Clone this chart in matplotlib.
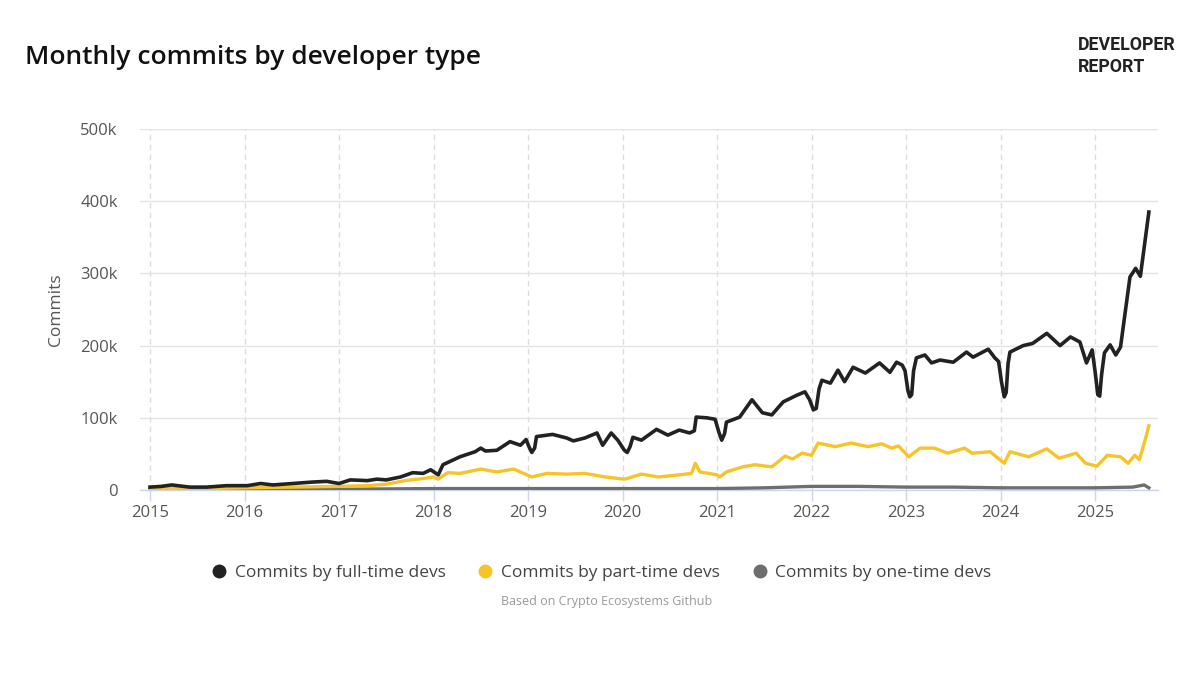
import matplotlib
matplotlib.use("Agg")
import matplotlib.pyplot as plt
from matplotlib.lines import Line2D
from matplotlib.ticker import FuncFormatter

# Datas em ano decimal, commits em milhares
ft_dates = [2015.0, 2015.12, 2015.23, 2015.42, 2015.6, 2015.81, 2016.03, 2016.17, 2016.3, 2016.51,
            2016.72, 2016.87, 2017.0, 2017.12, 2017.3, 2017.4, 2017.5, 2017.65, 2017.78, 2017.89,
            2017.97, 2018.05, 2018.1, 2018.28, 2018.44, 2018.5, 2018.55, 2018.67, 2018.81, 2018.92,
            2018.98, 2019.01, 2019.04, 2019.07, 2019.09, 2019.26, 2019.41, 2019.48, 2019.6, 2019.73,
            2019.79, 2019.88, 2019.95, 2020.02, 2020.05, 2020.08, 2020.11, 2020.2, 2020.36, 2020.48,
            2020.6, 2020.71, 2020.76, 2020.78, 2020.89, 2020.98, 2021.02, 2021.05, 2021.08, 2021.1,
            2021.24, 2021.37, 2021.48, 2021.58, 2021.7, 2021.84, 2021.93, 2021.98, 2022.02, 2022.05,
            2022.08, 2022.11, 2022.2, 2022.28, 2022.35, 2022.44, 2022.57, 2022.72, 2022.83, 2022.9,
            2022.96, 2022.99, 2023.02, 2023.04, 2023.06, 2023.08, 2023.11, 2023.2, 2023.27, 2023.36,
            2023.5, 2023.64, 2023.71, 2023.87, 2023.94, 2023.98, 2024.01, 2024.04, 2024.06, 2024.08,
            2024.1, 2024.24, 2024.34, 2024.49, 2024.63, 2024.74, 2024.84, 2024.91, 2024.97, 2025.0,
            2025.03, 2025.05, 2025.07, 2025.1, 2025.16, 2025.22, 2025.27, 2025.37, 2025.43, 2025.48,
            2025.57]
ft_commits_k = [4, 5, 7, 4, 4, 6, 6, 9, 7, 9,
                11, 12, 9, 14, 13, 15, 14, 18, 24, 23,
                28, 21, 35, 46, 53, 58, 54, 55, 67, 62,
                70, 60, 52, 58, 74, 77, 72, 68, 72, 79,
                62, 79, 69, 55, 52, 60, 73, 69, 84, 76,
                83, 79, 82, 101, 100, 98, 80, 69, 78, 94,
                101, 125, 107, 104, 122, 131, 136, 125, 111, 113,
                140, 152, 148, 166, 150, 170, 162, 176, 163, 177,
                173, 165, 138, 129, 132, 165, 183, 187, 176, 180,
                177, 191, 184, 195, 183, 178, 150, 129, 135, 175,
                191, 200, 203, 217, 200, 212, 205, 176, 194, 165,
                132, 130, 160, 190, 201, 187, 198, 295, 307, 296,
                385]

pt_dates = [2015.0, 2015.6, 2016.0, 2016.5, 2017.0, 2017.3, 2017.5, 2017.7, 2017.9, 2018.0,
            2018.05, 2018.15, 2018.28, 2018.5, 2018.67, 2018.85, 2019.04, 2019.2, 2019.41, 2019.6,
            2019.82, 2020.02, 2020.05, 2020.2, 2020.38, 2020.6, 2020.73, 2020.77, 2020.82, 2021.0,
            2021.03, 2021.1, 2021.27, 2021.4, 2021.58, 2021.72, 2021.8, 2021.9, 2022.0, 2022.07,
            2022.25, 2022.42, 2022.6, 2022.74, 2022.85, 2022.92, 2023.03, 2023.15, 2023.3, 2023.44,
            2023.62, 2023.7, 2023.89, 2024.04, 2024.1, 2024.3, 2024.49, 2024.62, 2024.8, 2024.9,
            2025.02, 2025.13, 2025.27, 2025.35, 2025.42, 2025.47, 2025.53, 2025.57]
pt_commits_k = [1, 2, 3, 4, 5, 6, 8, 13, 16, 18,
                15, 24, 23, 29, 25, 29, 18, 23, 22, 23,
                18, 15, 16, 22, 18, 21, 23, 37, 25, 21,
                18, 25, 32, 35, 32, 47, 43, 51, 48, 65,
                60, 65, 60, 64, 58, 61, 46, 58, 58, 51,
                58, 51, 53, 37, 53, 46, 57, 44, 51, 37,
                33, 48, 46, 37, 48, 42, 69, 89]

ot_dates = [2015.0, 2016.0, 2017.0, 2018.0, 2019.0, 2020.0, 2021.0, 2021.5, 2022.0, 2022.5,
            2023.0, 2023.5, 2024.0, 2024.5, 2025.0, 2025.4, 2025.52, 2025.57]
ot_commits_k = [1, 1, 1, 2, 2, 2, 2, 3, 5, 5,
                4, 4, 3, 3, 3, 4, 7, 3]

years = list(range(2015, 2026))
y_ticks_k = [0, 100, 200, 300, 400, 500]

series_labels = ["Commits by full-time devs", "Commits by part-time devs", "Commits by one-time devs"]
series_colors = ["#222222", "#F6C428", "#6e6e6e"]

plt.rcParams['font.family'] = ['Open Sans', 'DejaVu Sans']

fig = plt.figure(figsize=(12, 6.95), dpi=100)
ax = fig.add_axes([140 / 1200, 1 - 490 / 695, (1158 - 140) / 1200, (490 - 129) / 695])

# Linhas (cinza embaixo, preta em cima)
ax.plot(ot_dates, [v * 1000 for v in ot_commits_k], color=series_colors[2], lw=2.4, zorder=3,
        solid_joinstyle='round')
ax.plot(pt_dates, [v * 1000 for v in pt_commits_k], color=series_colors[1], lw=2.4, zorder=4,
        solid_joinstyle='round')
ax.plot(ft_dates, [v * 1000 for v in ft_commits_k], color=series_colors[0], lw=2.6, zorder=5,
        solid_joinstyle='round')

ax.set_xlim(2015 - 10 / 94.5, 2015 + (1158 - 150) / 94.5)
ax.set_ylim(0, 500000)

ax.set_xticks(years)
ax.set_xticklabels([str(y) for y in years])
ax.set_yticks([v * 1000 for v in y_ticks_k])
ax.yaxis.set_major_formatter(FuncFormatter(lambda v, p: "0" if v == 0 else f"{int(v / 1000)}k"))

# Grade
ax.grid(axis='y', color='#e3e3e3', lw=1, zorder=0)
ax.grid(axis='x', color='#dcdcdc', lw=1, ls=(0, (4, 3)), zorder=0)
ax.set_axisbelow(True)

for s in ['top', 'right', 'left']:
    ax.spines[s].set_visible(False)
ax.spines['bottom'].set_color('#ccd6eb')
ax.spines['bottom'].set_linewidth(1)

ax.tick_params(axis='x', colors='#ccd6eb', length=8, width=1, pad=3, labelcolor='#555555',
               labelsize=12)
ax.tick_params(axis='y', length=0, pad=16, labelcolor='#555555', labelsize=12)

ax.set_ylabel("Commits", fontsize=12.5, color='#555555', labelpad=12)

# Títulos
fig.text(25 / 1200, 1 - 64 / 695, "Monthly commits by developer type", fontsize=19,
         fontweight='semibold', color='#111111', va='baseline')
fig.text(1078 / 1200, 1 - 50 / 695, "DEVELOPER", fontsize=12.8, fontweight='bold',
         family='Roboto', color='#222222', va='baseline')
fig.text(1078 / 1200, 1 - 72 / 695, "REPORT", fontsize=12.8, fontweight='bold',
         family='Roboto', color='#222222', va='baseline')

# Legenda
handles = [Line2D([], [], ls='none', marker='o', markersize=9, color=c) for c in series_colors]
fig.legend(handles, series_labels, loc='center', bbox_to_anchor=(600 / 1200, 1 - 573 / 695),
           ncol=3, frameon=False, fontsize=12.5, labelcolor='#444444', handletextpad=0.3,
           columnspacing=1.7, handlelength=1.2)

fig.text(607 / 1200, 1 - 602 / 695, "Based on Crypto Ecosystems Github", fontsize=9,
         color='#999999', ha='center', va='center')

fig.savefig("out.png", dpi=100, facecolor='white')
